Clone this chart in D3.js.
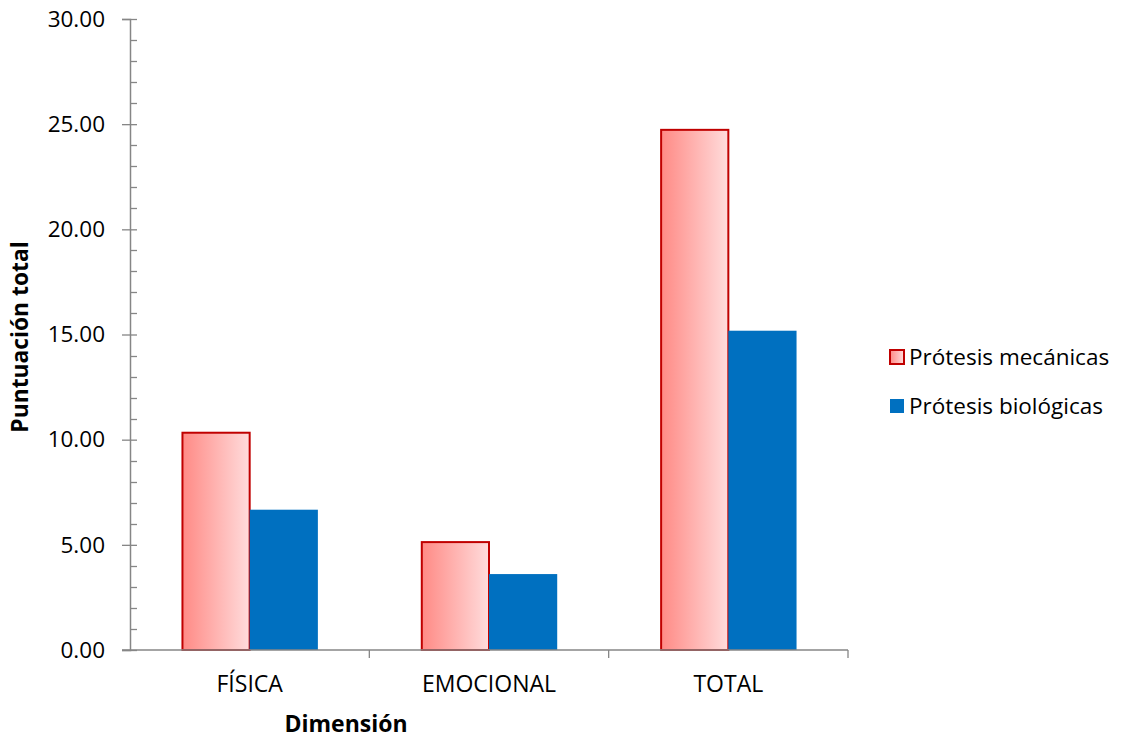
<!DOCTYPE html>
<html>
<head>
<meta charset="utf-8">
<script src="https://cdn.jsdelivr.net/npm/d3@7"></script>
<style>
  html, body { margin: 0; padding: 0; background: #fff; }
  svg { display: block; font-family: "Open Sans", "Noto Sans", sans-serif; }
</style>
</head>
<body>
<svg id="chart" width="1121" height="738"></svg>
<script>
// Categories and series
const categories = ["FÍSICA", "EMOCIONAL", "TOTAL"];
const seriesNames = ["Prótesis mecánicas", "Prótesis biológicas"];
const mecanicas = [10.33, 5.13, 24.73];
const biologicas = [6.67, 3.61, 15.18];
const yTicks = [0, 5, 10, 15, 20, 25, 30];

const svg = d3.select("#chart");
const margin = { left: 130, right: 273, top: 19, bottom: 88 };
const W = 1121, H = 738;
const plotW = W - margin.left - margin.right;
const plotH = H - margin.top - margin.bottom;

const axisColor = "#868686";
const tickFont = 22.5;
const catFont = 23;

// Gradient used by the mechanical prosthesis bars
const defs = svg.append("defs");
const grad = defs.append("linearGradient").attr("id", "redGrad")
  .attr("x1", "0%").attr("x2", "100%").attr("y1", "0%").attr("y2", "0%");
grad.append("stop").attr("offset", "0%").attr("stop-color", "#FF8A85");
grad.append("stop").attr("offset", "100%").attr("stop-color", "#FFDCDC");

const g = svg.append("g").attr("transform", `translate(${margin.left},${margin.top})`);

const x0 = d3.scaleBand().domain(categories).range([0, plotW]).paddingInner(0.43).paddingOuter(0.215);
const x1 = d3.scaleBand().domain(seriesNames).range([0, x0.bandwidth()]);
const y = d3.scaleLinear().domain([0, 30]).range([plotH, 0]);

const data = categories.map((c, i) => ({ cat: c, vals: [mecanicas[i], biologicas[i]] }));

// Bars
const groups = g.selectAll(".grp").data(data).join("g")
  .attr("transform", d => `translate(${x0(d.cat)},0)`);

groups.append("rect")
  .attr("x", x1(seriesNames[0]) + 1)
  .attr("y", d => y(d.vals[0]))
  .attr("width", x1.bandwidth() - 1)
  .attr("height", d => y(0) - y(d.vals[0]))
  .attr("fill", "url(#redGrad)")
  .attr("stroke", "#C00000")
  .attr("stroke-width", 2);

groups.append("rect")
  .attr("x", x1(seriesNames[1]))
  .attr("y", d => y(d.vals[1]))
  .attr("width", x1.bandwidth())
  .attr("height", d => y(0) - y(d.vals[1]))
  .attr("fill", "#0070C0");

// Y axis: minor ticks every unit on the inside, majors crossing the line
const minor = d3.range(0, 31, 1).filter(v => v % 5 !== 0);
g.selectAll(".minor").data(minor).join("line")
  .attr("x1", 0).attr("x2", 7)
  .attr("y1", d => Math.round(y(d)) + 0.5).attr("y2", d => Math.round(y(d)) + 0.5)
  .attr("stroke", axisColor).attr("stroke-width", 1.3);

const yAxis = g.append("g").call(
  d3.axisLeft(y).tickValues(yTicks).tickFormat(d3.format(".2f")).tickSize(8).tickPadding(17)
);
yAxis.select(".domain").attr("stroke", axisColor).attr("stroke-width", 1.5);
yAxis.selectAll(".tick line").attr("stroke", axisColor).attr("stroke-width", 1.3).attr("x2", 7).attr("x1", -8);
yAxis.selectAll(".tick text").attr("fill", "#000").style("font-size", tickFont + "px")
  .style("font-family", "'Open Sans', sans-serif");

// X axis with ticks between categories
const xAxisG = g.append("g").attr("transform", `translate(0,${plotH})`);
xAxisG.append("line").attr("x1", -8).attr("x2", plotW)
  .attr("stroke", axisColor).attr("stroke-width", 1.5);
const bounds = d3.range(0, categories.length + 1).map(i => i * plotW / categories.length);
xAxisG.selectAll(".xt").data(bounds.slice(1)).join("line")
  .attr("x1", d => d).attr("x2", d => d).attr("y1", 0).attr("y2", 8)
  .attr("stroke", axisColor).attr("stroke-width", 1.3);
xAxisG.selectAll(".xl").data(categories).join("text")
  .attr("x", d => x0(d) + x0.bandwidth() / 2)
  .attr("y", 42)
  .attr("text-anchor", "middle")
  .style("font-size", catFont + "px")
  .text(d => d);

// Axis titles
svg.append("text")
  .attr("x", 346)
  .attr("y", 732)
  .attr("text-anchor", "middle")
  .style("font-size", "23px").style("font-weight", "bold")
  .text("Dimensión");

svg.append("text")
  .attr("transform", `translate(28,337) rotate(-90)`)
  .attr("text-anchor", "middle")
  .style("font-size", "22.8px").style("font-weight", "bold")
  .text("Puntuación total");

// Legend
const legend = svg.append("g").attr("transform", "translate(889,349)");
const items = legend.selectAll(".li").data(seriesNames).join("g")
  .attr("transform", (d, i) => `translate(0,${i * 49})`);
items.append("rect")
  .attr("x", 1).attr("y", 1).attr("width", 14).attr("height", 14)
  .attr("fill", (d, i) => i === 0 ? "url(#redGrad)" : "#0070C0")
  .attr("stroke", (d, i) => i === 0 ? "#C00000" : "none")
  .attr("stroke-width", 2);
items.append("text")
  .attr("x", 20).attr("y", 16)
  .style("font-size", tickFont + "px")
  .text(d => d);
</script>
</body>
</html>
